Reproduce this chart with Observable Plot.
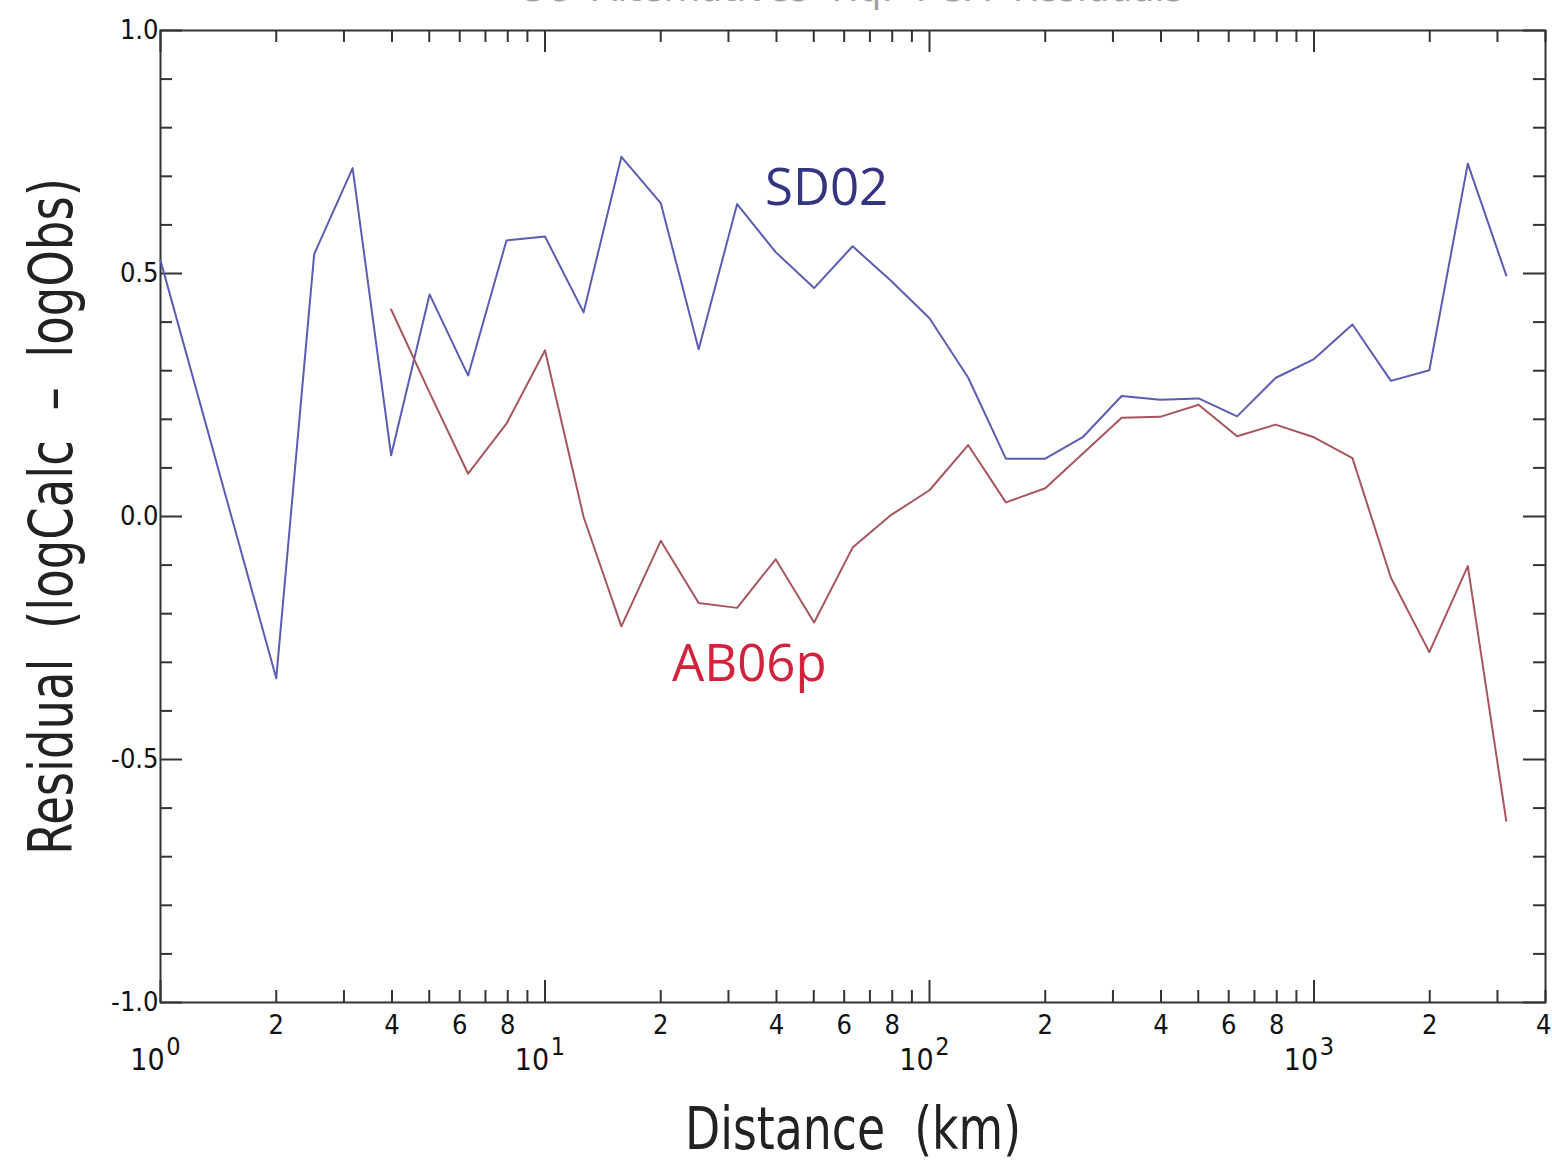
<!DOCTYPE html>
<html>
<head>
<meta charset="utf-8">
<script src="https://cdn.jsdelivr.net/npm/d3@7"></script>
<script src="https://cdn.jsdelivr.net/npm/@observablehq/plot@0.6"></script>
<style>
  html, body { margin: 0; padding: 0; background: #fff; }
  #wrap { position: relative; width: 1552px; height: 1166px; overflow: hidden; }
  #title { position: absolute; left: 0; width: 1705px; top: -36px; text-align: center;
           font-family: "DejaVu Sans", sans-serif; font-stretch: condensed; font-size: 40px; color: #a0a0a0; white-space: pre; }
</style>
</head>
<body>
<div id="wrap">
  <div id="title">SC  Alternatives  Hq.  PGA  Residuals</div>
  <div id="chart"></div>
</div>
<script>
// Distance (km) sample points for each model
const distSD02 = [1, 2, 2.51, 3.16, 3.98, 5.01, 6.31, 7.94, 10, 12.6, 15.8, 20, 25.1, 31.6, 39.8, 50.1, 63.1, 79.4, 100, 126, 158, 200, 251, 316, 398, 501, 631, 794, 1000, 1259, 1585, 1995, 2512, 3162];
const residSD02 = [0.527, -0.333, 0.540, 0.717, 0.126, 0.457, 0.290, 0.568, 0.576, 0.420, 0.740, 0.645, 0.344, 0.643, 0.544, 0.470, 0.556, 0.485, 0.408, 0.286, 0.119, 0.119, 0.164, 0.248, 0.240, 0.243, 0.206, 0.285, 0.324, 0.395, 0.279, 0.301, 0.726, 0.496];
const distAB06p = [3.98, 5.01, 6.31, 7.94, 10, 12.6, 15.8, 20, 25.1, 31.6, 39.8, 50.1, 63.1, 79.4, 100, 126, 158, 200, 251, 316, 398, 501, 631, 794, 1000, 1259, 1585, 1995, 2512, 3162];
const residAB06p = [0.426, 0.255, 0.088, 0.191, 0.342, -0.001, -0.226, -0.050, -0.178, -0.188, -0.088, -0.218, -0.064, 0.003, 0.054, 0.147, 0.029, 0.058, 0.130, 0.203, 0.205, 0.230, 0.165, 0.189, 0.163, 0.120, -0.126, -0.279, -0.102, -0.626];

// Series annotations
const seriesNames = ["SD02", "AB06p"];
const seriesLabelX = [54, 34];
const seriesLabelY = [0.675, -0.305];

// Axis ticks
const xMajorTicks = [1, 10, 100, 1000];
const xMinorTicks = [2,3,4,5,6,7,8,9, 20,30,40,50,60,70,80,90, 200,300,400,500,600,700,800,900, 2000,3000,4000];
const xMinorLabelValues = [2,4,6,8, 20,40,60,80, 200,400,600,800, 2000];
const xEndLabelValues = [4000];
const xDecadeLabels = [1, 10, 100, 1000];
const xDecadeExponents = ["0", "1", "2", "3"];
const yMajorTicks = [-1, -0.5, 0, 0.5, 1];
const yMinorTicks = [-0.9,-0.8,-0.7,-0.6,-0.4,-0.3,-0.2,-0.1,0.1,0.2,0.3,0.4,0.6,0.7,0.8,0.9];
const yTickLabels = ["-1.0", "-0.5", "0.0", "0.5", "1.0"];

const xTitle = "Distance  (km)";
const yTitle = "Residual  (logCalc  –  logObs)";

const sd = distSD02.map((d, i) => ({dist: d, r: residSD02[i]}));
const ab = distAB06p.map((d, i) => ({dist: d, r: residAB06p[i]}));
const annot = seriesNames.map((n, i) => ({name: n, x: seriesLabelX[i], y: seriesLabelY[i]}));

const W = 1552, H = 1166, mL = 160, mR = 7, mT = 30, mB = 164;
const innerW = W - mL - mR, innerH = H - mT - mB;
const major = 22, minor = 12;
const axisFont = "'DejaVu Sans Condensed', 'DejaVu Sans', sans-serif";
const tickColor = "#333";
const mantissa = d => String(Math.round(d / Math.pow(10, Math.floor(Math.log10(d) + 1e-9))));

const chart = Plot.plot({
  width: W, height: H,
  marginLeft: mL, marginRight: mR, marginTop: mT, marginBottom: mB,
  style: {fontFamily: axisFont, background: "#fff", overflow: "visible"},
  x: {type: "log", domain: [1, 4000], axis: null},
  y: {domain: [-1, 1], axis: null},
  marks: [
    // ticks (inward)
    Plot.tickX(xMajorTicks, {x: d => d, insetTop: innerH - major, stroke: tickColor, strokeWidth: 2}),
    Plot.tickX(xMajorTicks, {x: d => d, insetBottom: innerH - major, stroke: tickColor, strokeWidth: 2}),
    Plot.tickX(xMinorTicks, {x: d => d, insetTop: innerH - minor, stroke: tickColor, strokeWidth: 2}),
    Plot.tickX(xMinorTicks, {x: d => d, insetBottom: innerH - minor, stroke: tickColor, strokeWidth: 2}),
    Plot.tickY(yMajorTicks, {y: d => d, insetRight: innerW - major, stroke: tickColor, strokeWidth: 2}),
    Plot.tickY(yMajorTicks, {y: d => d, insetLeft: innerW - major, stroke: tickColor, strokeWidth: 2}),
    Plot.tickY(yMinorTicks, {y: d => d, insetRight: innerW - minor, stroke: tickColor, strokeWidth: 2}),
    Plot.tickY(yMinorTicks, {y: d => d, insetLeft: innerW - minor, stroke: tickColor, strokeWidth: 2}),
    Plot.frame({stroke: tickColor, strokeWidth: 2}),
    // lines
    Plot.line(sd, {x: "dist", y: "r", stroke: "#5a5db2", strokeWidth: 2}),
    Plot.line(ab, {x: "dist", y: "r", stroke: "#a8565e", strokeWidth: 2}),
    // series labels
    Plot.text(annot, {x: "x", y: "y", text: "name", fill: (d) => d.name === "SD02" ? "#34357f" : "#d3233c",
      fontFamily: "'Open Sans', sans-serif", fontSize: 51, lineAnchor: "middle"}),
    // y tick labels
    Plot.text(yMajorTicks, {y: d => d, text: (d, i) => yTickLabels[i], frameAnchor: "left", textAnchor: "end",
      dx: -2, fontSize: 27, fill: "#111", lineAnchor: "middle"}),
    // x minor tick labels
    Plot.text(xMinorLabelValues, {x: d => d, text: mantissa,
      frameAnchor: "bottom", dy: 23, fontSize: 27, fill: "#111", lineAnchor: "middle"}),
    Plot.text(xEndLabelValues, {x: d => d, text: mantissa, textAnchor: "end",
      frameAnchor: "bottom", dx: 6, dy: 23, fontSize: 27, fill: "#111", lineAnchor: "middle"}),
    // decade labels 10^n
    Plot.text(xDecadeLabels, {x: d => d, text: () => "10", frameAnchor: "bottom", dx: -13, dy: 58, fontSize: 30, fill: "#111", lineAnchor: "middle"}),
    Plot.text(xDecadeLabels, {x: d => d, text: (d, i) => xDecadeExponents[i], frameAnchor: "bottom", dx: 13, dy: 44, fontSize: 25, fill: "#111", lineAnchor: "middle"}),
    // axis titles
    Plot.text([xTitle], {text: d => d, frameAnchor: "bottom", textAnchor: "middle", dy: 128, fontSize: 58, fill: "#222", lineAnchor: "middle"}),
    Plot.text([yTitle], {text: d => d, frameAnchor: "left", textAnchor: "middle", dx: -108, rotate: -90, fontSize: 60, fill: "#222", lineAnchor: "middle"})
  ]
});

document.getElementById("chart").appendChild(chart);

// compress axis titles along their reading direction to the narrow look of the original
function squeeze(el, target) {
  const len = el.getComputedTextLength();
  if (!len) return;
  const k = target / len;
  const tr = el.getAttribute("transform") || "";
  el.setAttribute("transform", (tr + ` scale(${k},1)`).trim());
}
d3.select(chart).selectAll("text").each(function () {
  const t = this.textContent || "";
  if (t.includes("Distance")) squeeze(this, 336);
  else if (t.includes("logCalc")) squeeze(this, 677);
});
</script>
</body>
</html>
